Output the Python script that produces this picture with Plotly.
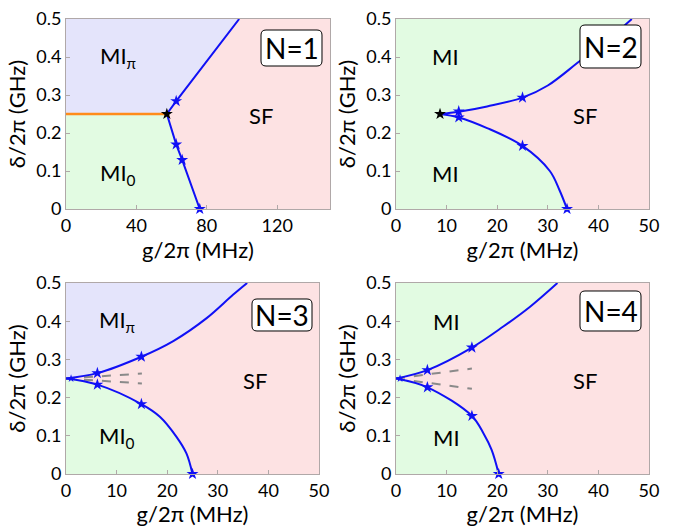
import plotly.graph_objects as go

# ---------------- data ----------------
# N=1
n1_up_x = [57.3, 62.6, 98.4]
n1_up_y = [0.25, 0.284, 0.5]
n1_lo_x = [57.3, 62.6, 66.0, 76.0]
n1_lo_y = [0.25, 0.170, 0.129, 0.0]
n1_or_x = [0, 57.3]
n1_or_y = [0.25, 0.25]
n1_star_x = [62.6, 62.6, 66.0, 76.0]
n1_star_y = [0.284, 0.170, 0.129, 0.0]
n1_cusp_x = [57.3]
n1_cusp_y = [0.25]

# N=2
n2_up_x = [8.7, 12.4, 18.0, 25.0, 30.0, 36.4, 41.0, 46.6]
n2_up_y = [0.25, 0.256, 0.270, 0.293, 0.325, 0.390, 0.435, 0.5]
n2_lo_x = [8.7, 12.4, 18.0, 25.0, 30.4, 32.3, 33.8]
n2_lo_y = [0.25, 0.241, 0.213, 0.166, 0.100, 0.050, 0.0]
n2_star_x = [12.4, 12.4, 25.0, 25.0, 33.8]
n2_star_y = [0.257, 0.241, 0.293, 0.166, 0.0]
n2_cusp_x = [8.7]
n2_cusp_y = [0.25]

# N=3
n3_up_x = [0, 6.2, 14.9, 21.2, 27.8, 33.0, 35.8]
n3_up_y = [0.25, 0.264, 0.307, 0.348, 0.408, 0.469, 0.5]
n3_lo_x = [0, 6.2, 14.9, 18.55, 21.8, 23.8, 25.0]
n3_lo_y = [0.25, 0.234, 0.183, 0.150, 0.098, 0.054, 0.0]
n3_star_x = [6.2, 14.9, 6.2, 14.9, 25.0]
n3_star_y = [0.264, 0.307, 0.234, 0.183, 0.0]
n3_dash_up_x = [0, 15]
n3_dash_up_y = [0.25, 0.263]
n3_dash_lo_x = [0, 15]
n3_dash_lo_y = [0.25, 0.237]
n3_small_x = [1.0]
n3_small_y = [0.25]

# N=4
n4_up_x = [0, 6.2, 15.0, 21.2, 26.5, 31.9]
n4_up_y = [0.25, 0.272, 0.331, 0.386, 0.438, 0.5]
n4_lo_x = [0, 6.2, 15.0, 17.3, 18.9, 20.3]
n4_lo_y = [0.25, 0.227, 0.152, 0.106, 0.063, 0.0]
n4_star_x = [6.2, 15.0, 6.2, 15.0, 20.3]
n4_star_y = [0.272, 0.331, 0.227, 0.152, 0.0]
n4_dash_up_x = [0, 15]
n4_dash_up_y = [0.25, 0.276]
n4_dash_lo_x = [0, 15]
n4_dash_lo_y = [0.25, 0.223]
n4_small_x = [0.8]
n4_small_y = [0.25]

x_ranges = [[0, 150], [0, 50], [0, 50], [0, 50]]
x_ticks = [[0, 40, 80, 120], [0, 10, 20, 30, 40, 50], [0, 10, 20, 30, 40, 50], [0, 10, 20, 30, 40, 50]]
y_ticks = [0, 0.1, 0.2, 0.3, 0.4, 0.5]
y_ticktext = ["0", "0.1", "0.2", "0.3", "0.4", "0.5"]
panel_labels = ["N=1", "N=2", "N=3", "N=4"]
x_title = "g/2π (MHz)"
y_title = "δ/2π (GHz)"

# ---------------- style ----------------
BLUE_BG = "#e4e4fb"
GREEN_BG = "#e2fbe2"
PINK_BG = "#fde2e3"
LINE_BLUE = "#1010f5"
FONT = "Lato"
W, H = 673, 527

fig = go.Figure()


def add_fill(x, y, color, ax, shape="linear"):
    fig.add_trace(go.Scatter(x=x, y=y, mode="lines", fill="tozerox", fillcolor=color,
                             line=dict(width=0, color=color, shape=shape, smoothing=1.0),
                             xaxis="x" + ax, yaxis="y" + ax, hoverinfo="skip", showlegend=False))


def add_line(x, y, ax, color=LINE_BLUE, width=2, dash="solid", shape="linear"):
    fig.add_trace(go.Scatter(x=x, y=y, mode="lines",
                             line=dict(width=width, color=color, dash=dash, shape=shape, smoothing=1.0),
                             xaxis="x" + ax, yaxis="y" + ax, hoverinfo="skip", showlegend=False))


def add_stars(x, y, ax, color=LINE_BLUE, size=9):
    fig.add_trace(go.Scatter(x=x, y=y, mode="markers",
                             marker=dict(symbol="star", size=size, color=color, line=dict(width=0)),
                             xaxis="x" + ax, yaxis="y" + ax, hoverinfo="skip", showlegend=False,
                             cliponaxis=False))


# Panel 1
add_fill(n1_up_x, n1_up_y, BLUE_BG, "")
add_fill(n1_lo_x, n1_lo_y, GREEN_BG, "")
add_line(n1_or_x, n1_or_y, "", color="#ff8c1a", width=2.5)
add_line(n1_up_x, n1_up_y, "")
add_line(n1_lo_x, n1_lo_y, "")
add_stars(n1_star_x, n1_star_y, "")
add_stars(n1_cusp_x, n1_cusp_y, "", color="black")

# Panel 2
add_fill(n2_up_x, n2_up_y, GREEN_BG, "2", shape="spline")
add_fill(n2_lo_x, n2_lo_y, GREEN_BG, "2", shape="spline")
add_line(n2_up_x, n2_up_y, "2", shape="spline")
add_line(n2_lo_x, n2_lo_y, "2", shape="spline")
add_stars(n2_star_x, n2_star_y, "2")
add_stars(n2_cusp_x, n2_cusp_y, "2", color="black")

# Panel 3
add_fill(n3_up_x, n3_up_y, BLUE_BG, "3", shape="spline")
add_fill(n3_lo_x, n3_lo_y, GREEN_BG, "3", shape="spline")
add_line(n3_dash_up_x, n3_dash_up_y, "3", color="#8a8a8a", width=2, dash="dash")
add_line(n3_dash_lo_x, n3_dash_lo_y, "3", color="#8a8a8a", width=2, dash="dash")
add_line(n3_up_x, n3_up_y, "3", shape="spline")
add_line(n3_lo_x, n3_lo_y, "3", shape="spline")
add_stars(n3_star_x, n3_star_y, "3")
add_stars(n3_small_x, n3_small_y, "3", size=6)

# Panel 4
add_fill(n4_up_x, n4_up_y, GREEN_BG, "4", shape="spline")
add_fill(n4_lo_x, n4_lo_y, GREEN_BG, "4", shape="spline")
add_line(n4_dash_up_x, n4_dash_up_y, "4", color="#8a8a8a", width=2, dash="dash")
add_line(n4_dash_lo_x, n4_dash_lo_y, "4", color="#8a8a8a", width=2, dash="dash")
add_line(n4_up_x, n4_up_y, "4", shape="spline")
add_line(n4_lo_x, n4_lo_y, "4", shape="spline")
add_stars(n4_star_x, n4_star_y, "4")
add_stars(n4_small_x, n4_small_y, "4", size=6)

# ---------------- axes ----------------
# pixel boxes of each plot area: (left, right, top, bottom)
boxes = [(66, 330, 19, 209), (396, 649, 19, 209), (66, 319, 283, 474), (396, 649, 283, 474)]
names = ["", "2", "3", "4"]
axis_common = dict(showgrid=False, zeroline=False, showline=True, mirror=True,
                   linecolor="#b0a8a8", linewidth=1, ticks="inside", ticklen=4,
                   tickcolor="#b0a8a8", automargin=False,
                   tickfont=dict(family=FONT, size=18, color="black"))
title_font = dict(family=FONT, size=22, color="black")
layout_axes = {}
for i, (l, r, t, b) in enumerate(boxes):
    n = names[i]
    layout_axes["xaxis" + n] = dict(axis_common, domain=[l / W, r / W], range=x_ranges[i],
                                    tickvals=x_ticks[i], anchor="y" + n,
                                    title=dict(text=x_title, font=title_font, standoff=6))
    layout_axes["yaxis" + n] = dict(axis_common, domain=[1 - b / H, 1 - t / H], range=[0, 0.5],
                                    tickvals=y_ticks, ticktext=y_ticktext, anchor="x" + n,
                                    title=dict(text=y_title, font=title_font, standoff=4))
fig.update_layout(**layout_axes)

annotations = []
# region labels (data coords)
labels = [
    ("", "MI<sub>π</sub>", 29.4, 0.40), ("", "MI<sub>0</sub>", 29.4, 0.092), ("", "SF", 111, 0.247),
    ("2", "MI", 9.8, 0.40), ("2", "MI", 9.8, 0.094), ("2", "SF", 37.4, 0.245),
    ("3", "MI<sub>π</sub>", 10.0, 0.40), ("3", "MI<sub>0</sub>", 10.0, 0.096), ("3", "SF", 37.3, 0.246),
    ("4", "MI", 9.9, 0.40), ("4", "MI", 9.9, 0.096), ("4", "SF", 37.4, 0.246),
]
for ax, txt, x, y in labels:
    annotations.append(dict(text=txt, x=x, y=y, xref="x" + ax, yref="y" + ax, showarrow=False,
                            font=dict(family=FONT, size=22, color="black"),
                            xanchor="center", yanchor="middle"))

# boxed panel labels with rounded corners (pixel boxes: x0, x1, y0, y1)
label_boxes = [(261, 322, 30, 66), (580, 641, 25, 68), (252, 312, 299, 331), (580, 641, 291, 331)]
shapes = []
rad = 5
for txt, (x0, x1, y0, y1) in zip(panel_labels, label_boxes):
    def P(px, py):
        return f"{px / W:.5f},{1 - py / H:.5f}"
    path = (f"M {P(x0 + rad, y0)} L {P(x1 - rad, y0)} Q {P(x1, y0)} {P(x1, y0 + rad)} "
            f"L {P(x1, y1 - rad)} Q {P(x1, y1)} {P(x1 - rad, y1)} "
            f"L {P(x0 + rad, y1)} Q {P(x0, y1)} {P(x0, y1 - rad)} "
            f"L {P(x0, y0 + rad)} Q {P(x0, y0)} {P(x0 + rad, y0)} Z")
    shapes.append(dict(type="path", path=path, xref="paper", yref="paper",
                       fillcolor="white", line=dict(color="black", width=1), layer="above"))
    annotations.append(dict(text=txt, x=(x0 + x1) / 2 / W, y=1 - (y0 + y1) / 2 / H,
                            xref="paper", yref="paper", showarrow=False,
                            font=dict(family=FONT, size=28, color="black"),
                            xanchor="center", yanchor="middle"))

fig.update_layout(annotations=annotations, shapes=shapes, width=W, height=H,
                  margin=dict(l=0, r=0, t=0, b=0),
                  plot_bgcolor=PINK_BG, paper_bgcolor="white",
                  font=dict(family=FONT), showlegend=False)

fig.write_html("out.html")
